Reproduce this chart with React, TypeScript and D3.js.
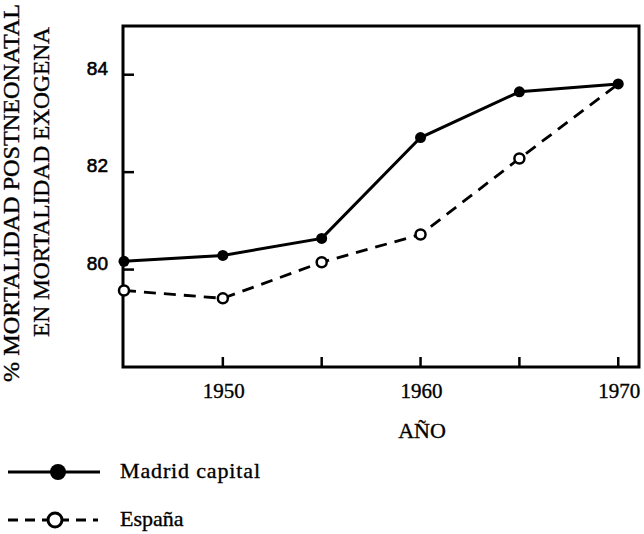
import React from "react";
import * as d3 from "d3";

const years = [1945, 1950, 1955, 1960, 1965, 1970];
const madrid = [80.17, 80.29, 80.64, 82.71, 83.65, 83.81];
const espana = [79.57, 79.41, 80.15, 80.72, 82.28, 83.81];
const xTicks = [1950, 1955, 1960, 1965, 1970];
const xTickLabels = [1950, 1960, 1970];
const yTicks = [80, 82, 84];
const seriesNames = ["Madrid capital", "España"];
const yTitle = ["% MORTALIDAD POSTNEONATAL", "EN MORTALIDAD EXOGENA"];
const xTitle = "AÑO";

const W = 644;
const H = 534;
const L = 123, R = 639, T = 26, B = 367;

export default function App() {
  const x = d3.scaleLinear().domain([1944.95, 1971.05]).range([L, R]);
  const y = d3.scaleLinear().domain([78, 85]).range([B, T]);
  const line = d3.line<number>().x((_, i) => x(years[i])).y((v) => y(v));
  const serif = "'Liberation Serif', 'Times New Roman', serif";
  const sans = "'Liberation Sans', Arial, sans-serif";
  const heavy = { stroke: "#000", strokeWidth: 0.35 };

  return (
    <svg width={W} height={H} style={{ position: "absolute", left: 0, top: 0, background: "#fff" }}>
      <rect x={0} y={0} width={W} height={H} fill="#fff" />
      {/* frame */}
      <rect x={L} y={T} width={R - L} height={B - T} fill="none" stroke="#000" strokeWidth={3} />
      {/* x ticks */}
      {xTicks.map((t) => (
        <line key={t} x1={x(t)} x2={x(t)} y1={B} y2={B - 10} stroke="#000" strokeWidth={2.5} />
      ))}
      {xTickLabels.map((t) => (
        <text key={t} x={x(t) + 1} y={398} textAnchor="middle" fontFamily={serif} fontSize={21} fill="#000" {...heavy}>
          {t}
        </text>
      ))}
      {/* y ticks */}
      {yTicks.map((t) => (
        <g key={t}>
          <line x1={L} x2={L + 11} y1={y(t)} y2={y(t)} stroke="#000" strokeWidth={2.5} />
          <text x={108} y={y(t)} textAnchor="end" fontFamily={sans} fontSize={19} fill="#000" stroke="#000" strokeWidth={0.6}>
            {t}
          </text>
        </g>
      ))}
      {/* axis titles */}
      <text x={422} y={438} textAnchor="middle" fontFamily={serif} fontSize={22} fill="#000" {...heavy}>
        {xTitle}
      </text>
      <text
        transform={`translate(19,${193}) rotate(-90)`}
        textAnchor="middle"
        fontFamily={serif}
        fontSize={23}
        textLength={378}
        lengthAdjust="spacingAndGlyphs"
        fill="#000"
        {...heavy}
      >
        {yTitle[0]}
      </text>
      <text
        transform={`translate(49,${182}) rotate(-90)`}
        textAnchor="middle"
        fontFamily={serif}
        fontSize={23}
        textLength={310}
        lengthAdjust="spacingAndGlyphs"
        fill="#000"
        {...heavy}
      >
        {yTitle[1]}
      </text>
      {/* series */}
      <path d={line(espana) || ""} fill="none" stroke="#000" strokeWidth={2.8} strokeDasharray="12,8" />
      <path d={line(madrid) || ""} fill="none" stroke="#000" strokeWidth={3} />
      {madrid.map((v, i) => (
        <circle key={"m" + i} cx={x(years[i])} cy={y(v)} r={5.5} fill="#000" />
      ))}
      {espana.map((v, i) =>
        i === espana.length - 1 ? null : (
          <circle key={"e" + i} cx={x(years[i])} cy={y(v)} r={5} fill="#fff" stroke="#000" strokeWidth={2.5} />
        )
      )}
      {/* legend */}
      <line x1={8} x2={100} y1={472} y2={472} stroke="#000" strokeWidth={3} />
      <circle cx={58} cy={472} r={8} fill="#000" />
      <text x={120} y={478} fontFamily={serif} fontSize={22} textLength={140} fill="#000" {...heavy}>
        {seriesNames[0]}
      </text>
      <line x1={8} x2={98} y1={520} y2={520} stroke="#000" strokeWidth={3} strokeDasharray="10,7" />
      <circle cx={55} cy={520} r={7} fill="#fff" stroke="#000" strokeWidth={3} />
      <text x={120} y={526} fontFamily={serif} fontSize={22} fill="#000" {...heavy}>
        {seriesNames[1]}
      </text>
    </svg>
  );
}
